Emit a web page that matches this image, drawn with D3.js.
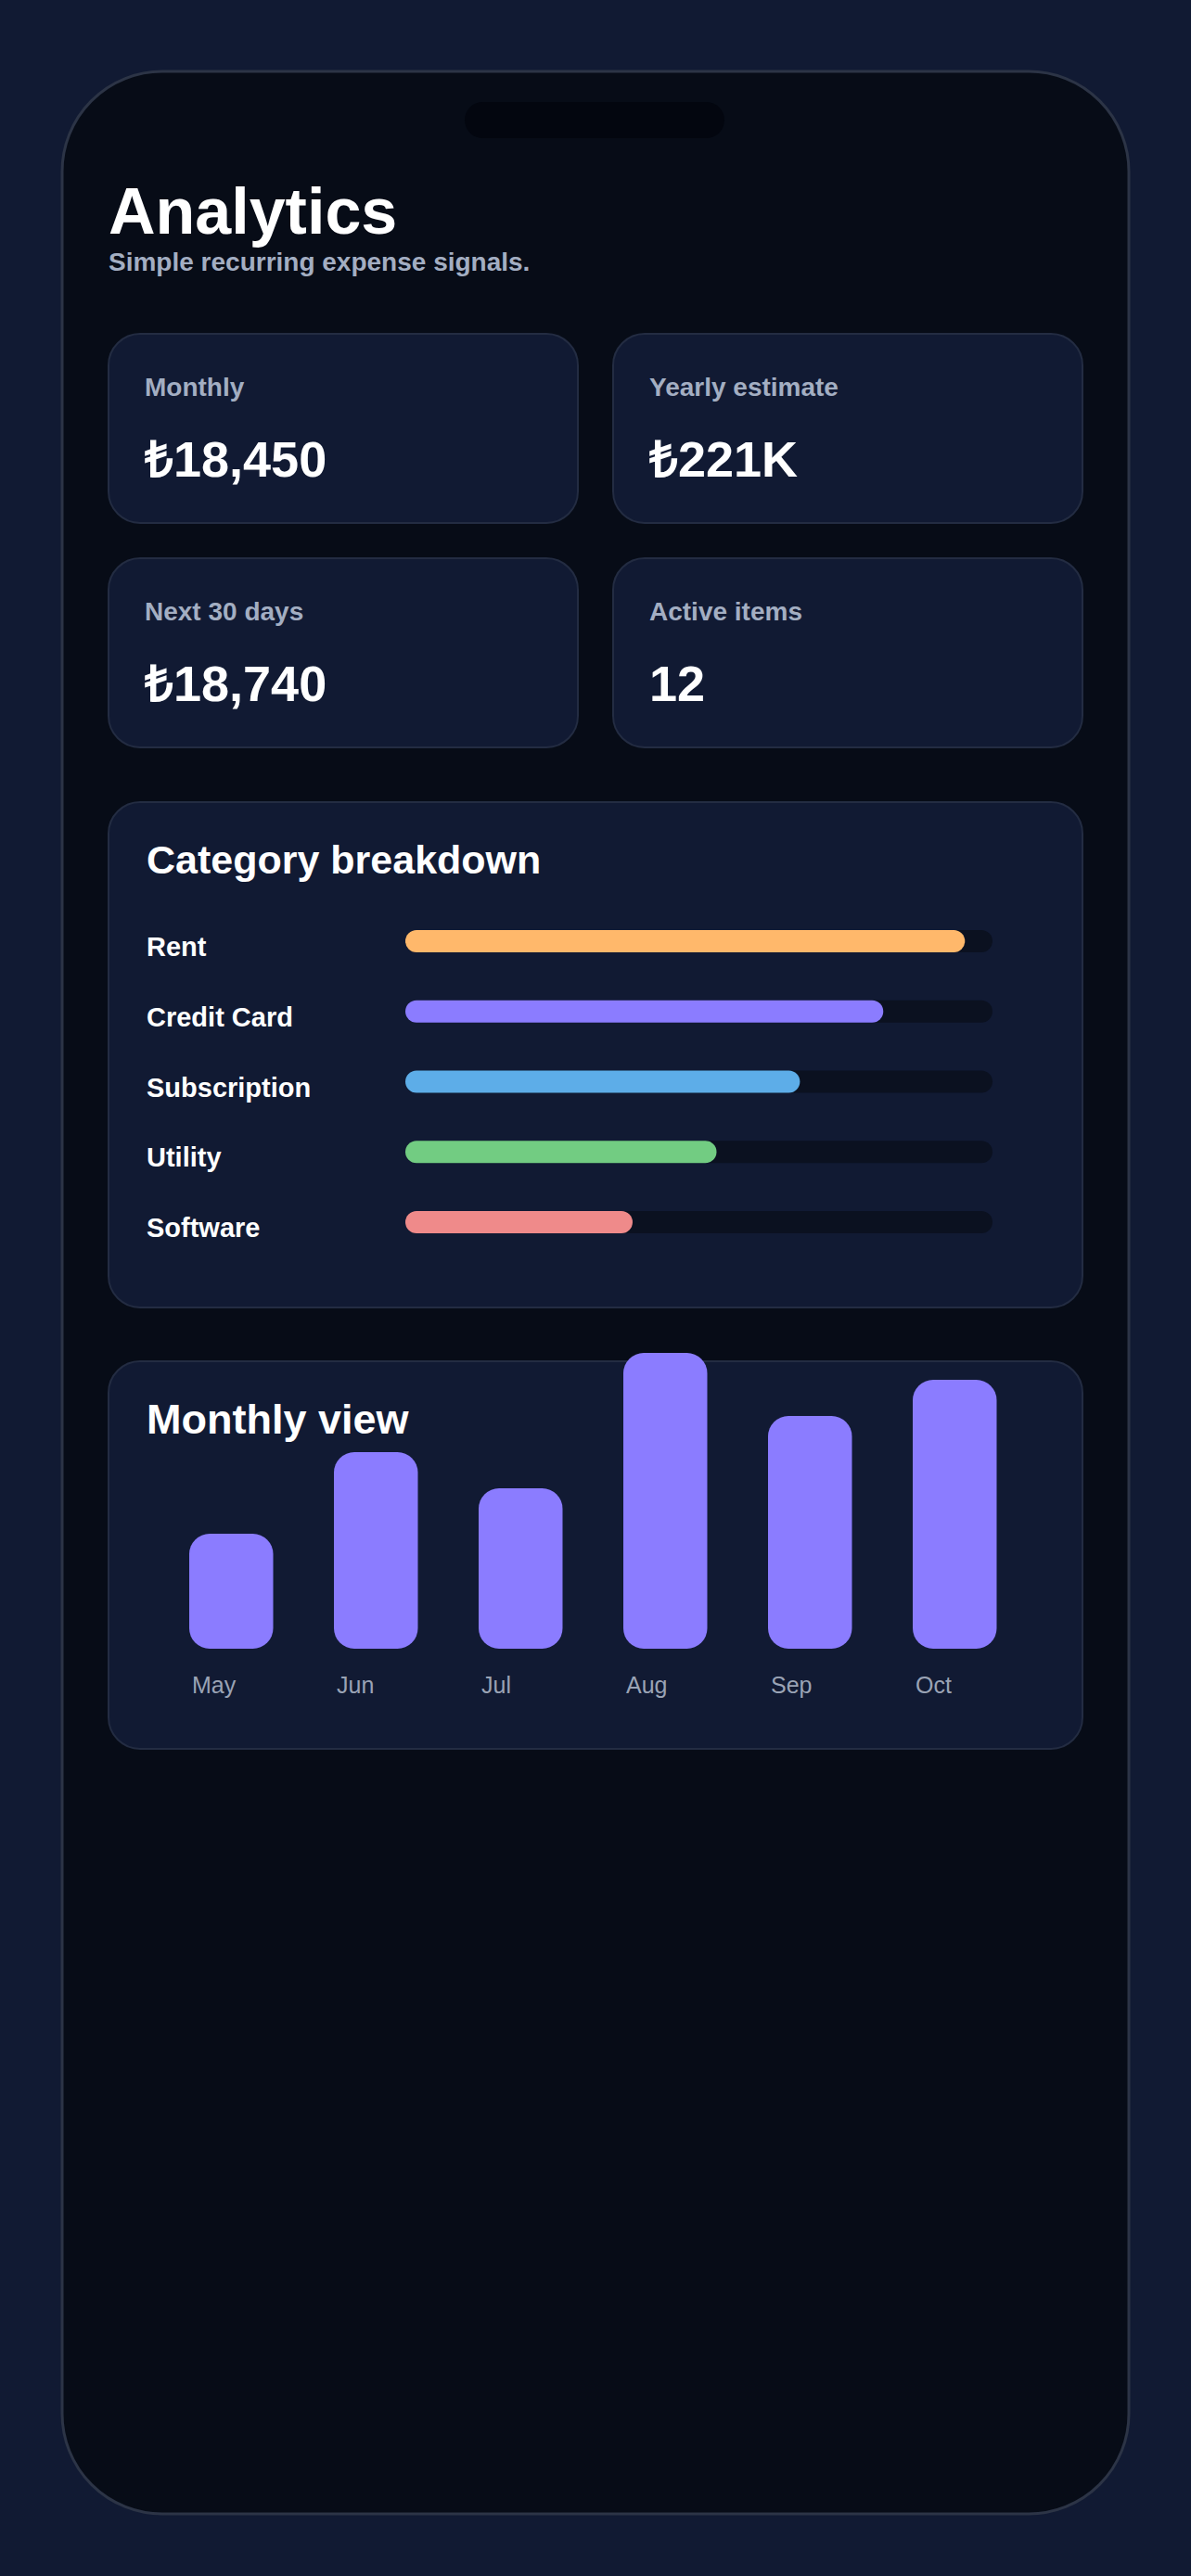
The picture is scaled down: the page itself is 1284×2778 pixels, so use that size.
<!DOCTYPE html>
<html><head><meta charset="utf-8">
<script src="https://cdn.jsdelivr.net/npm/d3@7"></script>
<style>html,body{margin:0;background:#111a33;}svg{display:block;font-family:"Liberation Sans",Arial,sans-serif;}</style>
</head><body><svg id="c" width="1284" height="2778"></svg>
<script>
const statLabels = ["Monthly","Yearly estimate","Next 30 days","Active items"];
const statValues = ["₺18,450","₺221K","₺18,740","12"];
const categories = ["Rent","Credit Card","Subscription","Utility","Software"];
const categoryShare = [95.3,81.4,67.2,53.0,38.7];
const categoryColors = ["#ffb86b","#8b7cff","#5dade8","#72cc82","#ef8a8a"];
const months = ["May","Jun","Jul","Aug","Sep","Oct"];
const monthValues = [12400,21200,17300,31900,25100,29000];

const svg = d3.select("#c");
svg.append("rect").attr("width",1284).attr("height",2778).attr("fill","#111a33");
svg.append("rect").attr("x",67).attr("y",77).attr("width",1150).attr("height",2634).attr("rx",108)
  .attr("fill","#070c17").attr("stroke","#2c3446").attr("stroke-width",3);
svg.append("rect").attr("x",501).attr("y",110).attr("width",280).attr("height",39).attr("rx",19.5).attr("fill","#03060f");

svg.append("text").attr("x",117).attr("y",252).attr("fill","#fff").attr("font-size",70).attr("font-weight",700).text("Analytics");
svg.append("text").attr("x",117).attr("y",292).attr("fill","#a3aec2").attr("font-size",28).attr("font-weight",700).text("Simple recurring expense signals.");

const card = (x,y,w,h)=>svg.append("rect").attr("x",x).attr("y",y).attr("width",w).attr("height",h).attr("rx",34)
  .attr("fill","#111a33").attr("stroke","#232c42").attr("stroke-width",2);
const cx=[117,661], cy=[360,602];
statLabels.forEach((l,i)=>{
  const x=cx[i%2], y=cy[Math.floor(i/2)];
  card(x,y,506,204);
  svg.append("text").attr("x",x+39).attr("y",y+67).attr("fill","#a3aec2").attr("font-size",28).attr("font-weight",700).text(l);
  svg.append("text").attr("x",x+39).attr("y",y+154).attr("fill","#fff").attr("font-size",54).attr("font-weight",700).text(statValues[i]);
});

// Category breakdown
card(117,865,1050,545);
svg.append("text").attr("x",158).attr("y",942).attr("fill","#fff").attr("font-size",43).attr("font-weight",700).text("Category breakdown");
const xs = d3.scaleLinear().domain([0,100]).range([437,1070]);
const ys = d3.scalePoint().domain(categories).range([1015,1318]);
categories.forEach((c,i)=>{
  const y=ys(c);
  svg.append("text").attr("x",158).attr("y",y+16).attr("fill","#fff").attr("font-size",29).attr("font-weight",700).text(c);
  svg.append("rect").attr("x",xs(0)).attr("y",y-12).attr("width",xs(100)-xs(0)).attr("height",24).attr("rx",12).attr("fill","#0b1120");
  svg.append("rect").attr("x",xs(0)).attr("y",y-12).attr("width",xs(categoryShare[i])-xs(0)).attr("height",24).attr("rx",12).attr("fill",categoryColors[i]);
});

// Monthly view
card(117,1468,1050,418);
svg.append("text").attr("x",158).attr("y",1546).attr("fill","#fff").attr("font-size",45).attr("font-weight",700).text("Monthly view");
const bx = d3.scaleBand().domain(months).range([138.5,1140]).padding(0.42);
const by = d3.scaleLinear().domain([0,31900]).range([1778,1459]);
months.forEach((m,i)=>{
  svg.append("rect").attr("x",bx(m)).attr("y",by(monthValues[i])).attr("width",bx.bandwidth())
    .attr("height",by(0)-by(monthValues[i])).attr("rx",22).attr("fill","#8b7cff");
  svg.append("text").attr("x",bx(m)+3).attr("y",1826).attr("fill","#9aa3b5").attr("font-size",25).text(m);
});
</script></body></html>
